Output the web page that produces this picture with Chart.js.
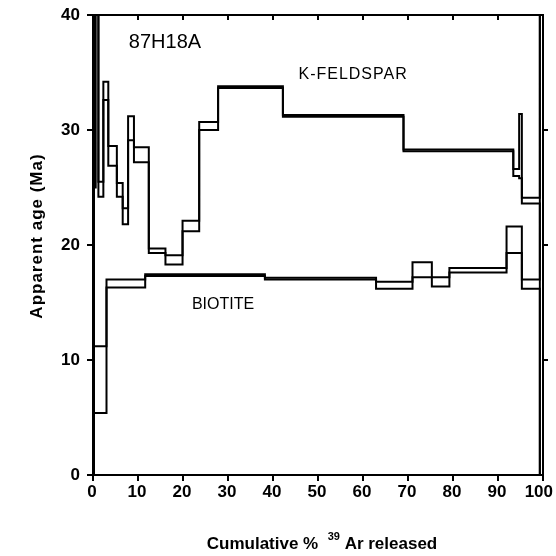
<!DOCTYPE html>
<html><head><meta charset="utf-8">
<script src="https://cdn.jsdelivr.net/npm/chart.js@4.4.0/dist/chart.umd.min.js"></script>
<style>html,body{margin:0;padding:0;background:#fff;overflow:hidden}#wrap{width:556px;height:556px;overflow:hidden}canvas{display:block}</style>
</head><body><div id="wrap"><canvas id="c" width="556" height="556"></canvas></div>
<script>
// Tick values and labels
const xTicks = [0,10,20,30,40,50,60,70,80,90,100];
const xTickLabels = ['0','10','20','30','40','50','60','70','80','90','100'];
const yTicks = [0,10,20,30,40];
const rightTicks = [10,20,30];

// K-feldspar step edges (cumulative % 39Ar) and 2-sigma age bounds (Ma)
const kfEdges = [0, 0.6, 1.2, 2.3, 3.4, 5.3, 6.6, 7.8, 9.1, 12.4, 16.1, 19.9, 23.6, 27.8, 42.2, 69.0, 93.4, 94.7, 95.3, 99.3, 100];
const kfLow   = [25, 50, 24.2, 32.6, 26.9, 24.2, 21.8, 29.1, 27.2, 19.3, 18.3, 21.2, 30.0, 33.65, 31.15, 28.15, 26.0, 25.8, 23.6, -5];
const kfHigh  = [50, 50, 25.5, 34.2, 28.6, 25.4, 23.2, 31.2, 28.5, 19.7, 19.1, 22.1, 30.7, 33.8, 31.3, 28.3, 26.6, 31.4, 24.1, 50];

// Biotite
const btEdges = [0, 3.0, 11.6, 38.2, 62.9, 71.0, 75.3, 79.2, 91.9, 95.3, 99.3, 100];
const btLow   = [5.4, 16.3, 17.3, 17.0, 16.2, 17.2, 16.4, 17.6, 19.3, 16.2, -5];
const btHigh  = [11.2, 17.0, 17.45, 17.15, 16.8, 18.5, 17.2, 18.0, 21.6, 17.0, 50];

// Labels
const sampleLabel = '87H18A';
const kfLabel = 'K-FELDSPAR';
const btLabel = 'BIOTITE';

function upperPath(edges, lo, hi) {
  const n = hi.length;
  const pts = [{x: edges[0], y: lo[0]}];
  for (let i = 0; i < n; i++) pts.push({x: edges[i], y: hi[i]});
  pts.push({x: edges[n], y: hi[n-1]});
  pts.push({x: edges[n], y: lo[n-1]});
  return pts;
}
function lowerPath(edges, lo) {
  const n = lo.length;
  const pts = [];
  for (let i = 0; i < n; i++) pts.push({x: edges[i], y: lo[i]});
  pts.push({x: edges[n], y: lo[n-1]});
  return pts;
}
function ds(data) {
  return {data, stepped: 'before', borderColor: '#000', borderWidth: 2, pointRadius: 0, fill: false, tension: 0};
}

const FONT = '"Liberation Sans", Arial, sans-serif';

const framePlugin = {
  id: 'frame',
  afterDraw(chart) {
    const {ctx, chartArea: a, scales: {x, y}} = chart;
    ctx.save();
    ctx.strokeStyle = '#000';
    ctx.lineWidth = 2;
    ctx.beginPath();
    ctx.moveTo(a.left, a.top); ctx.lineTo(a.right, a.top); ctx.lineTo(a.right, a.bottom);
    ctx.stroke();
    ctx.beginPath();
    xTicks.forEach(v => { const p = x.getPixelForValue(v); ctx.moveTo(p, a.top); ctx.lineTo(p, a.top + 5); });
    rightTicks.forEach(v => { const p = y.getPixelForValue(v); ctx.moveTo(a.right, p); ctx.lineTo(a.right + 5, p); });
    ctx.stroke();

    ctx.fillStyle = '#000';
    // x tick labels
    ctx.font = 'bold 17px ' + FONT;
    ctx.textBaseline = 'top';
    xTicks.forEach((v, i) => {
      const p = x.getPixelForValue(v);
      const last = i === xTicks.length - 1;
      ctx.textAlign = last ? 'right' : 'center';
      ctx.fillText(xTickLabels[i], last ? p + 10 : p - 1, a.bottom + 9);
    });

    ctx.textBaseline = 'middle';
    ctx.textAlign = 'center';
    ctx.font = '20px ' + FONT;
    ctx.fillText(sampleLabel, x.getPixelForValue(16), y.getPixelForValue(37.6));
    ctx.font = '16px ' + FONT;
    ctx.letterSpacing = '1px';
    ctx.fillText(kfLabel, x.getPixelForValue(57.8), y.getPixelForValue(34.8));
    ctx.letterSpacing = '0px';
    ctx.fillText(btLabel, x.getPixelForValue(28.9), y.getPixelForValue(14.8));

    // y title
    ctx.save();
    ctx.translate(37, 236);
    ctx.rotate(-Math.PI / 2);
    ctx.font = 'bold 17px ' + FONT;
    ctx.letterSpacing = '1px';
    ctx.fillText('Apparent age (Ma)', 0, 0);
    ctx.restore();

    // x title with superscript
    const cx = 322;
    const base = 549;
    ctx.textBaseline = 'alphabetic';
    ctx.textAlign = 'left';
    const p1 = 'Cumulative %  ', p2 = '39', p3 = ' Ar released';
    ctx.font = 'bold 17px ' + FONT; const w1 = ctx.measureText(p1).width, w3 = ctx.measureText(p3).width;
    ctx.font = 'bold 11px ' + FONT; const w2 = ctx.measureText(p2).width;
    let sx = cx - (w1 + w2 + w3) / 2;
    ctx.font = 'bold 17px ' + FONT; ctx.fillText(p1, sx, base);
    ctx.font = 'bold 11px ' + FONT; ctx.fillText(p2, sx + w1, base - 9);
    ctx.font = 'bold 17px ' + FONT; ctx.fillText(p3, sx + w1 + w2, base);
    ctx.restore();
  }
};

new Chart(document.getElementById('c'), {
  type: 'line',
  data: {
    datasets: [
      ds(upperPath(kfEdges, kfLow, kfHigh)),
      ds(lowerPath(kfEdges, kfLow)),
      ds(upperPath(btEdges, btLow, btHigh)),
      ds(lowerPath(btEdges, btLow))
    ]
  },
  options: {
    responsive: false,
    animation: false,
    layout: {padding: {top: 15, right: 13, left: 0, bottom: 0}},
    plugins: {legend: {display: false}, tooltip: {enabled: false}},
    scales: {
      x: {
        type: 'linear', min: 0, max: 100,
        afterBuildTicks: s => { s.ticks = xTicks.map(v => ({value: v})); },
        afterFit: s => { s.height = 81; s.paddingLeft = 0; s.paddingRight = 0; },
        grid: {drawOnChartArea: false, drawTicks: true, tickLength: 6, color: '#000', lineWidth: 2},
        border: {display: true, color: '#000', width: 2},
        ticks: {display: false}
      },
      y: {
        type: 'linear', min: 0, max: 40,
        afterBuildTicks: s => { s.ticks = yTicks.map(v => ({value: v})); },
        afterFit: s => { s.width = 93; s.paddingTop = 0; s.paddingBottom = 0; },
        grid: {drawOnChartArea: false, drawTicks: true, tickLength: 6, color: '#000', lineWidth: 2},
        border: {display: true, color: '#000', width: 3},
        ticks: {color: '#000', font: {family: FONT, size: 17, weight: 'bold'}, padding: 7}
      }
    }
  },
  plugins: [framePlugin]
});
</script></body></html>
